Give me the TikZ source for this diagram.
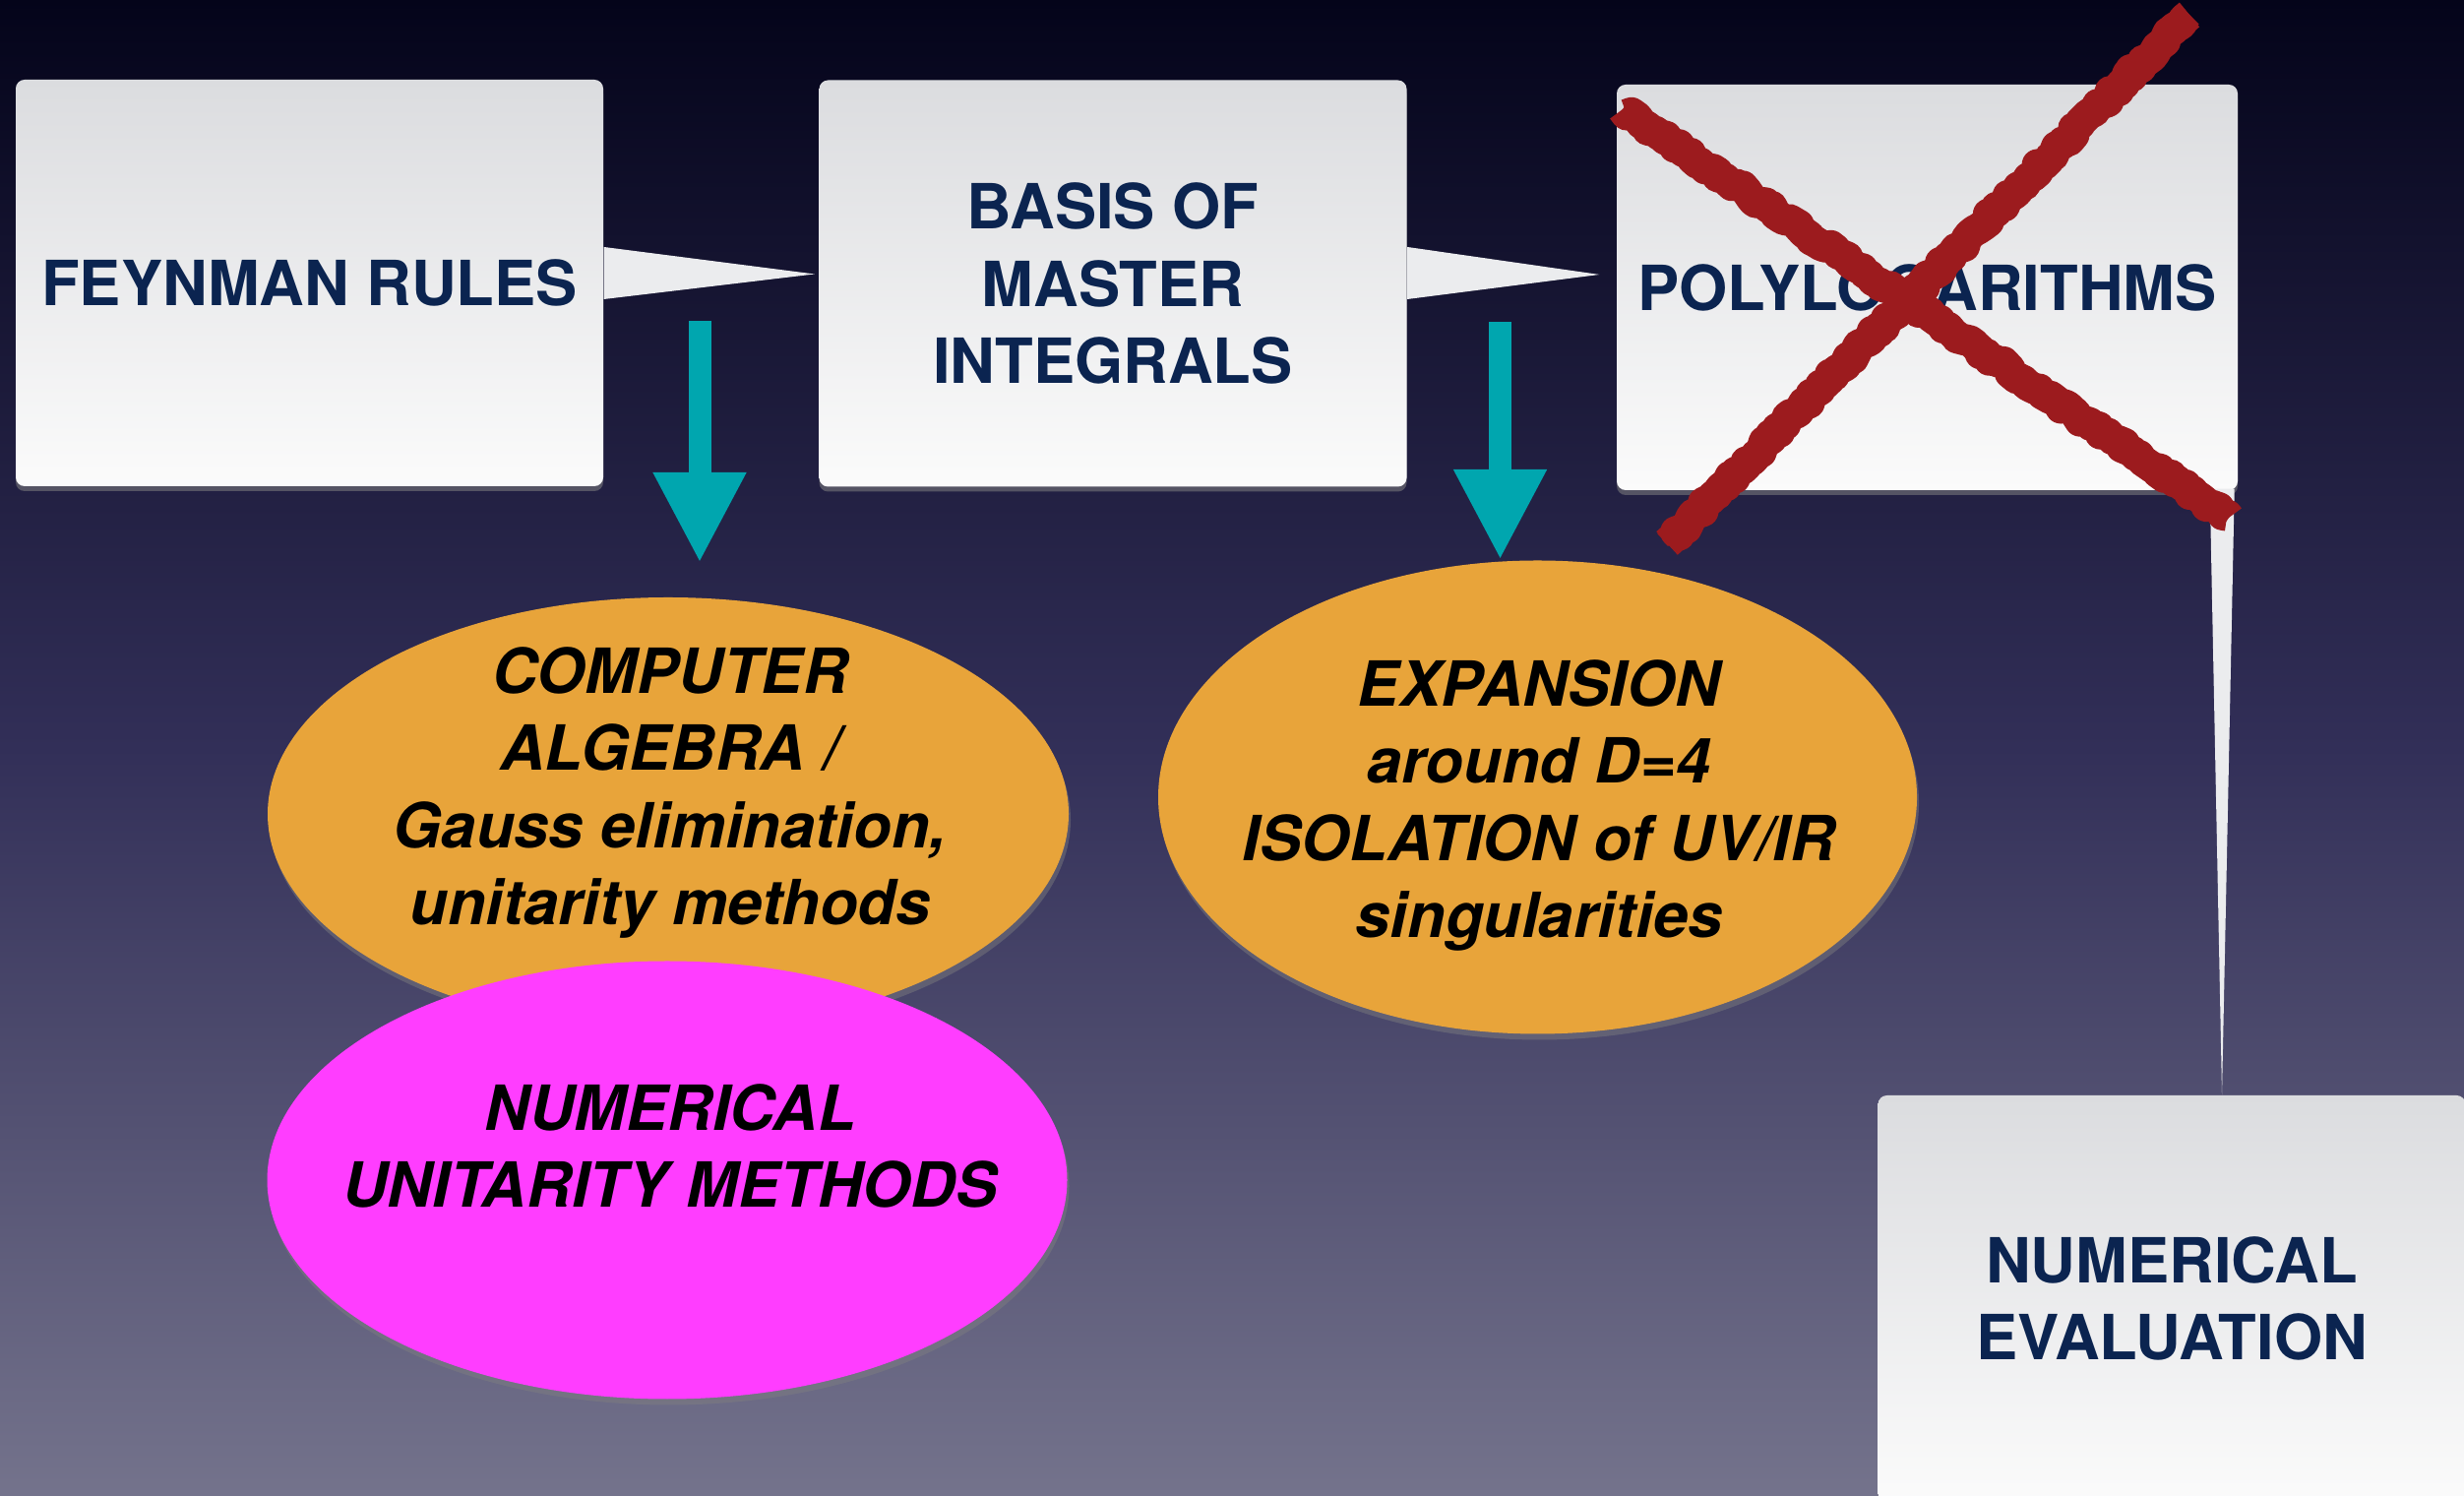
\documentclass[tikz,border=0pt]{standalone}
\usepackage{fontspec}
\setmainfont{TeX Gyre Heros}
\usetikzlibrary{shapes.geometric,arrows.meta,shadows,calc,decorations.pathmorphing}

\definecolor{bgtop}{HTML}{04041A}
\definecolor{bgmid}{HTML}{322F58}
\definecolor{bgbot}{HTML}{74738C}
\definecolor{boxtop}{HTML}{DBDCDF}
\definecolor{boxbot}{HTML}{FBFBFB}
\definecolor{navy}{HTML}{0B2450}
\definecolor{tealc}{HTML}{00A6AF}
\definecolor{orangec}{HTML}{E8A43A}
\definecolor{magc}{HTML}{FF3DFF}
\definecolor{crossred}{HTML}{9C1B1E}
\definecolor{wedgec}{HTML}{EBECEE}

\tikzset{
  card/.style={rectangle, rounded corners=0.09cm, top color=boxtop, bottom color=boxbot,
    minimum width=5.97cm, minimum height=4.13cm, inner sep=0pt, text=navy, align=center,
    font=\bfseries\fontsize{18}{22.3}\selectfont,
    drop shadow={shadow xshift=0cm, shadow yshift=-0.05cm, opacity=0.55}},
  blob/.style={ellipse, inner sep=0pt,
    drop shadow={shadow xshift=0.02cm, shadow yshift=-0.06cm, opacity=0.45}},
  blobtext/.style={align=center, inner sep=0pt, text=black,
    font=\bfseries\itshape\fontsize{18}{22.3}\selectfont},
  wedgefill/.style={fill=wedgec},
  downarrow/.style={draw=tealc, line width=0.23cm,
    -{Triangle[length=0.92cm, width=0.88cm]}},
  brush/.style={draw=crossred, line width=0.32cm, line join=round,
    decorate, decoration={random steps, segment length=1.4pt, amplitude=0.9pt}},
  brushcore/.style={draw=crossred, line width=0.27cm}
}

\begin{document}
\begin{tikzpicture}
\useasboundingbox (0,0) rectangle (25.04,15.19);
\clip (0,0) rectangle (25.04,15.19);

% backdrop
\shade[top color=bgtop, bottom color=bgbot, middle color=bgmid] (0,0) rectangle (25.04,15.19);

% top row of cards
\node[card] (feyn) at (3.145,12.315) {FEYNMAN RULES};
\node[card] (basis) at (11.31,12.31) {BASIS OF\\MASTER\\INTEGRALS};
\node[card, minimum width=6.31cm, minimum height=4.12cm] (poly) at (19.585,12.27) {POLYLOGARITHMS};
\node[card] (numer) at (22.07,1.995) {NUMERICAL\\EVALUATION};

% callout wedges between cards
\fill[wedgefill] ($(feyn.east)+(0,0.365)$) -- ($(basis.west)+(-0.04,0.095)$)
  -- ($(feyn.east)+(0,-0.165)$) -- cycle;
\fill[wedgefill] ($(basis.east)+(0,0.37)$) -- ($(poly.west)+(-0.17,0.13)$)
  -- ($(basis.east)+(0,-0.16)$) -- cycle;
\fill[wedgefill] ($(poly.south east)+(-0.29,0.02)$) -- ($(numer.north)+(0.51,0)$)
  -- ($(poly.south east)+(-0.04,0.02)$) -- cycle;

% teal arrows
\coordinate (a1s) at (7.11,11.93);
\coordinate (a1e) at (7.11,9.47);
\coordinate (a2s) at (15.245,11.92);
\coordinate (a2e) at (15.245,9.50);
\draw[downarrow] (a1s) -- (a1e);
\draw[downarrow] (a2s) -- (a2e);

% method ellipses
\node[blob, fill=orangec, minimum width=8.14cm, minimum height=4.40cm] (alg) at (6.79,6.92) {};
\node[blobtext] (algT) at (6.81,7.135) {COMPUTER\\ALGEBRA /\\Gauss elimination,\\unitarity methods};
\node[blob, fill=orangec, minimum width=7.71cm, minimum height=4.81cm] (exp) at (15.625,7.09) {};
\node[blobtext] (expT) at (15.64,7.005) {EXPANSION\\around D=4\\ISOLATION of UV/IR\\singularities};
\node[blob, fill=magc, minimum width=8.13cm, minimum height=4.45cm] (num) at (6.78,3.20) {};
\node[blobtext] (numT) at (6.81,3.545) {NUMERICAL\\UNITARITY METHODS};

% crossed-out mark
\coordinate (xa1) at (16.49,14.08);
\coordinate (xa2) at (22.65,9.93);
\coordinate (xb1) at (22.25,15.04);
\coordinate (xb2) at (16.94,9.67);
\draw[brushcore] (xa1) -- (xa2);
\draw[brush] (xa1) -- (xa2);
\draw[brushcore] (xb1) -- (xb2);
\draw[brush] (xb1) -- (xb2);
\end{tikzpicture}
\end{document}
